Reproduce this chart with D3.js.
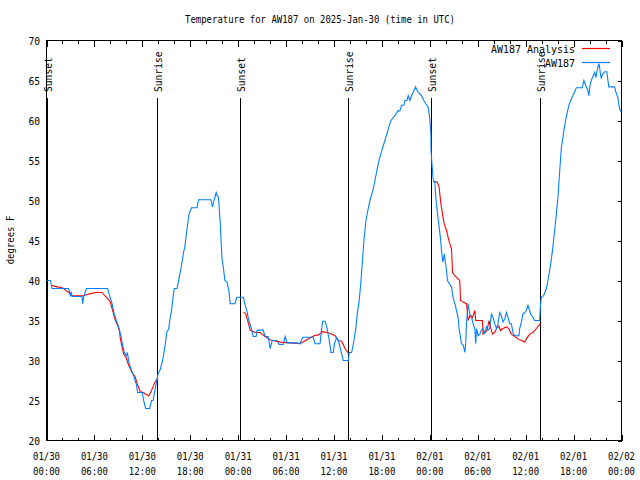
<!DOCTYPE html>
<html><head><meta charset="utf-8">
<script src="https://cdn.jsdelivr.net/npm/d3@7"></script>
<style>body{margin:0;background:#fff}svg{display:block}</style>
</head><body>
<svg id="c" width="640" height="480"></svg>
<script>
const titleText = "Temperature for AW187 on 2025-Jan-30 (time in UTC)";
const yLabelText = "degrees F";
const seriesNames = ["AW187 Analysis", "AW187"];
const seriesColors = ["#ff0000", "#0080ff"];
const startMs = Date.UTC(2025, 0, 30, 0, 0);
const yTicks = [20, 25, 30, 35, 40, 45, 50, 55, 60, 65, 70];
const xMajorHours = [0, 6, 12, 18, 24, 30, 36, 42, 48, 54, 60, 66, 72];
const xMinorHours = d3.range(0, 73, 2);
const sunHours = [0.08, 13.88, 24.25, 37.72, 48.16, 61.8];
const sunLabels = ["Sunset", "Sunrise", "Sunset", "Sunrise", "Sunset", "Sunrise"];

// observed AW187 (hours after 01/30 00:00 UTC, deg F)
const obsHours = [0.0,0.5,0.69,2.75,2.88,3.0,3.06,3.21,4.44,4.54,4.66,5.0,7.66,7.88,8.21,8.41,8.75,9.09,9.34,9.54,9.75,10.0,10.13,10.29,10.59,10.91,11.25,11.41,12.0,12.16,12.41,12.91,13.16,13.34,13.5,13.75,13.96,14.25,14.54,14.71,14.91,15.04,15.29,15.38,15.5,15.71,15.84,16.0,16.34,16.5,16.66,16.84,17.0,17.16,17.34,17.46,17.63,17.79,17.91,18.16,18.84,19.04,20.59,20.79,21.0,21.25,21.38,21.54,21.75,21.96,22.16,22.34,22.59,22.84,23.0,23.59,23.84,24.66,24.88,25.09,25.34,25.71,25.88,26.25,26.38,27.13,27.38,27.75,28.0,28.25,28.88,29.13,29.63,29.88,30.13,31.38,31.75,32.09,33.41,33.63,34.25,34.38,34.59,34.88,35.09,35.41,35.63,35.91,36.06,36.34,36.54,36.84,37.16,37.79,37.91,38.21,38.5,38.75,38.91,39.16,39.38,39.56,39.75,40.0,40.25,40.5,40.88,41.13,41.38,41.63,42.0,42.38,42.75,43.13,43.63,44.0,44.25,44.46,44.75,44.88,45.13,45.29,45.5,45.71,45.91,46.21,46.54,46.96,47.25,47.5,47.79,48.0,48.13,48.15,48.29,48.41,48.63,48.75,48.91,49.16,49.34,49.46,49.63,49.81,50.09,50.21,50.71,50.91,51.13,51.34,51.54,51.66,51.96,52.19,52.38,52.5,52.59,52.79,53.0,53.19,53.41,53.63,53.75,53.84,54.04,54.25,54.46,54.66,54.88,55.09,55.29,55.5,55.71,55.91,56.13,56.34,56.54,56.75,56.96,57.16,57.38,57.59,57.79,58.0,58.21,58.41,58.63,59.16,59.25,59.46,59.66,59.88,60.09,60.29,60.5,60.63,60.91,61.13,61.75,61.84,61.96,62.25,62.59,62.79,63.0,63.21,63.41,63.63,63.84,64.04,64.25,64.46,64.79,65.0,65.16,65.41,65.71,65.91,66.34,67.09,67.29,67.5,67.79,67.91,68.06,68.21,68.38,68.63,68.81,68.94,69.16,69.25,69.34,69.46,69.63,69.88,70.16,70.41,71.13,71.34,71.54,71.75,72.0];
const obsTemps = [40.0,40.0,39.0,39.0,38.6,38.0,38.6,38.0,38.0,37.1,38.0,39.0,39.0,38.2,37.1,36.1,35.0,34.0,33.0,31.9,31.0,30.6,31.0,29.9,28.9,28.1,27.0,26.0,26.0,25.0,24.0,24.0,25.0,25.0,25.9,27.1,28.3,28.9,30.0,31.0,32.3,33.5,33.9,34.6,35.4,36.7,37.9,39.0,39.0,39.8,40.6,41.5,42.5,43.5,44.3,45.4,46.7,47.9,48.5,49.1,49.1,50.1,50.1,49.2,50.1,51.0,50.6,50.4,47.3,42.9,41.5,40.0,39.8,38.75,37.1,37.1,37.9,37.9,36.9,36.2,35.0,33.8,33.0,33.0,33.8,33.8,33.0,33.0,31.5,32.5,32.5,32.0,32.0,33.0,32.2,32.2,32.1,32.9,32.9,32.1,32.1,33.3,34.9,34.9,34.2,32.5,31.0,31.0,32.1,32.9,32.5,31.3,30.0,30.0,31.0,31.0,32.5,34.2,35.8,37.5,40.0,42.5,45.0,47.5,48.8,50.0,51.3,52.5,53.8,55.0,56.3,57.5,58.8,60.0,60.6,61.2,61.2,61.9,61.9,62.5,62.5,63.1,62.5,63.1,63.5,64.2,63.5,63.1,62.5,62.1,61.7,60.2,58.3,56.25,54.2,52.7,52.3,50.4,48.8,46.7,45.2,43.75,42.3,43.3,41.25,40.0,39.2,37.9,37.1,36.25,35.4,34.0,32.1,31.9,31.0,32.3,34.6,37.1,35.8,35.6,34.6,34.0,32.1,34.0,33.1,33.3,33.8,34.0,33.4,34.2,33.8,34.0,35.8,35.4,34.6,34.0,34.6,36.0,35.6,34.8,35.2,36.0,35.4,34.6,34.6,33.5,33.1,33.1,34.0,34.8,35.8,36.0,36.25,36.9,36.25,35.8,35.4,35.0,35.0,36.7,37.9,38.1,39.0,40.0,41.25,42.6,44.2,46.25,48.3,50.4,53.5,56.5,58.75,60.0,60.8,61.9,62.7,63.1,64.1,64.1,65.0,64.4,63.75,63.1,64.4,65.0,65.4,66.0,65.4,66.2,67.1,66.7,66.0,65.25,65.8,66.1,66.1,64.2,64.2,63.4,62.9,61.5,61.0];

// analysis AW187 (null = no analysis, gap in line)
const anaHours = [0.59,1.34,1.96,2.38,2.79,3.21,3.84,4.66,5.29,6.13,6.96,7.38,7.79,8.0,8.21,8.41,8.63,8.91,9.13,9.25,9.46,9.66,9.96,10.29,10.71,11.13,11.41,11.75,12.16,12.38,12.79,13.0,13.34,13.63,13.91,
  18.0,
  24.66,24.94,25.29,25.5,26.13,26.75,27.38,28.0,29.25,30.5,31.75,32.59,33.5,34.04,34.59,35.09,35.71,36.13,36.54,36.96,37.38,37.79,
  42.0,
  48.41,48.91,49.16,49.38,49.59,49.79,50.09,50.29,50.5,50.71,50.79,50.84,51.13,51.54,51.75,51.84,52.16,52.59,52.79,53.0,53.31,53.41,53.63,53.75,54.59,54.66,54.88,55.16,55.41,55.56,55.84,56.13,56.34,56.63,56.84,57.16,57.59,57.88,58.21,58.63,59.04,59.46,59.88,60.09,60.5,60.91,61.34,61.75,61.88];
const anaTemps = [39.4,39.2,39.1,38.8,38.5,38.1,38.1,38.1,38.3,38.5,38.5,38.0,37.6,37.3,36.5,35.8,35.0,34.4,33.75,32.7,31.7,30.8,30.4,29.4,28.5,27.9,26.9,26.1,26.0,25.8,25.6,25.9,26.7,27.4,27.7,
  null,
  36.0,35.9,34.6,33.8,33.5,33.5,33.0,32.6,32.3,32.2,32.1,32.6,33.1,33.2,33.6,33.5,33.3,33.1,32.5,32.4,31.5,30.9,
  null,
  52.4,52.3,51.7,49.6,48.3,47.1,46.25,45.4,44.6,43.96,42.3,41.0,40.6,40.2,40.0,37.5,37.3,37.1,35.0,35.6,35.3,35.6,36.25,35.0,35.0,33.3,33.5,33.75,35.0,34.3,33.3,33.5,34.0,34.3,33.75,34.0,34.2,34.0,33.3,33.0,32.7,32.5,32.3,32.7,33.3,33.5,34.0,34.5,34.6];

const HOUR = 3600000;
const toDate = h => new Date(startMs + h * HOUR);
const FONT = "'DejaVu Sans Mono', 'Liberation Mono', monospace";
const CW = 5.4; // char advance
const svg = d3.select("#c");
const L = 46.5, R = 621.5, T = 40.5, B = 440.5;

const x = d3.scaleUtc().domain([toDate(0), toDate(72)]).range([L, R]);
const y = d3.scaleLinear().domain([20, 70]).range([B, T]);

function txt(g, s, attrs, cw) {
  const t = g.append("text").text(s)
    .attr("font-family", FONT).attr("font-size", 10.5).attr("fill", "#000")
    .attr("textLength", s.length * (cw || CW)).attr("lengthAdjust", "spacingAndGlyphs");
  for (const k in attrs) t.attr(k, attrs[k]);
  return t;
}

// title
txt(svg, titleText, {x: 320, y: 23, "text-anchor": "middle"});
// y label
txt(svg, yLabelText, {transform: "translate(14,240) rotate(-90)", "text-anchor": "middle"});

// sun lines
const sunG = svg.append("g");
sunHours.forEach((h, i) => {
  const xp = Math.round(x(toDate(h))) + 0.5;
  sunG.append("line").attr("x1", xp).attr("x2", xp).attr("y1", 98).attr("y2", B)
    .attr("stroke", "#000").attr("stroke-width", 1).attr("shape-rendering", "crispEdges");
  txt(sunG, sunLabels[i], {transform: `translate(${xp + 4},92) rotate(-90)`, "text-anchor": "start"}, 5.8);
});

// frame
svg.append("rect").attr("x", L).attr("y", T).attr("width", R - L).attr("height", B - T)
  .attr("fill", "none").attr("stroke", "#000").attr("shape-rendering", "crispEdges");

// axes with d3
const fmtD = d3.utcFormat("%m/%d"), fmtT = d3.utcFormat("%H:%M");
const xb = svg.append("g").attr("transform", `translate(0,${B})`)
  .call(d3.axisBottom(x).tickValues(xMinorHours.map(toDate)).tickSize(-3).tickFormat(""));
const xbM = svg.append("g").attr("transform", `translate(0,${B})`)
  .call(d3.axisBottom(x).tickValues(xMajorHours.map(toDate)).tickSize(-6).tickFormat(""));
const xt = svg.append("g").attr("transform", `translate(0,${T})`)
  .call(d3.axisTop(x).tickValues(xMinorHours.map(toDate)).tickSize(-3).tickFormat(""));
const xtM = svg.append("g").attr("transform", `translate(0,${T})`)
  .call(d3.axisTop(x).tickValues(xMajorHours.map(toDate)).tickSize(-6).tickFormat(""));
const yr = svg.append("g").attr("transform", `translate(${R},0)`)
  .call(d3.axisRight(y).tickValues(yTicks).tickSize(-4).tickFormat(""));
[xb, xbM, xt, xtM, yr].forEach(g => {
  g.select(".domain").remove();
  g.selectAll("line").attr("stroke", "#000").attr("shape-rendering", "crispEdges");
});
// x labels
xMajorHours.forEach(h => {
  const d = toDate(h), xp = x(d);
  txt(svg, fmtD(d), {x: xp, y: 460, "text-anchor": "middle"});
  txt(svg, fmtT(d), {x: xp, y: 475, "text-anchor": "middle"});
});
// y labels
yTicks.forEach(v => {
  txt(svg, String(v), {x: 40, y: y(v) + 4, "text-anchor": "end"}, 5.8);
});

// series
svg.append("clipPath").attr("id", "pc").append("rect")
  .attr("x", L).attr("y", T).attr("width", R - L).attr("height", B - T);
const line = d3.line().defined(d => d[1] != null).x(d => x(toDate(d[0]))).y(d => y(d[1]));
const anaData = anaHours.map((h, i) => [h, anaTemps[i]]);
const obsData = obsHours.map((h, i) => [h, obsTemps[i]]);
svg.append("path").datum(anaData).attr("d", line).attr("fill", "none")
  .attr("stroke", seriesColors[0]).attr("stroke-width", 1.1).attr("clip-path", "url(#pc)");
svg.append("path").datum(obsData).attr("d", line).attr("fill", "none")
  .attr("stroke", seriesColors[1]).attr("stroke-width", 1.1).attr("clip-path", "url(#pc)");

// legend
seriesNames.forEach((n, i) => {
  const ly = 48.5 + i * 14;
  txt(svg, n, {x: 575, y: ly + 4, "text-anchor": "end"}, 6.0);
  svg.append("line").attr("x1", 582).attr("x2", 610).attr("y1", ly).attr("y2", ly)
    .attr("stroke", seriesColors[i]).attr("stroke-width", 1.2);
});
</script>
</body></html>
